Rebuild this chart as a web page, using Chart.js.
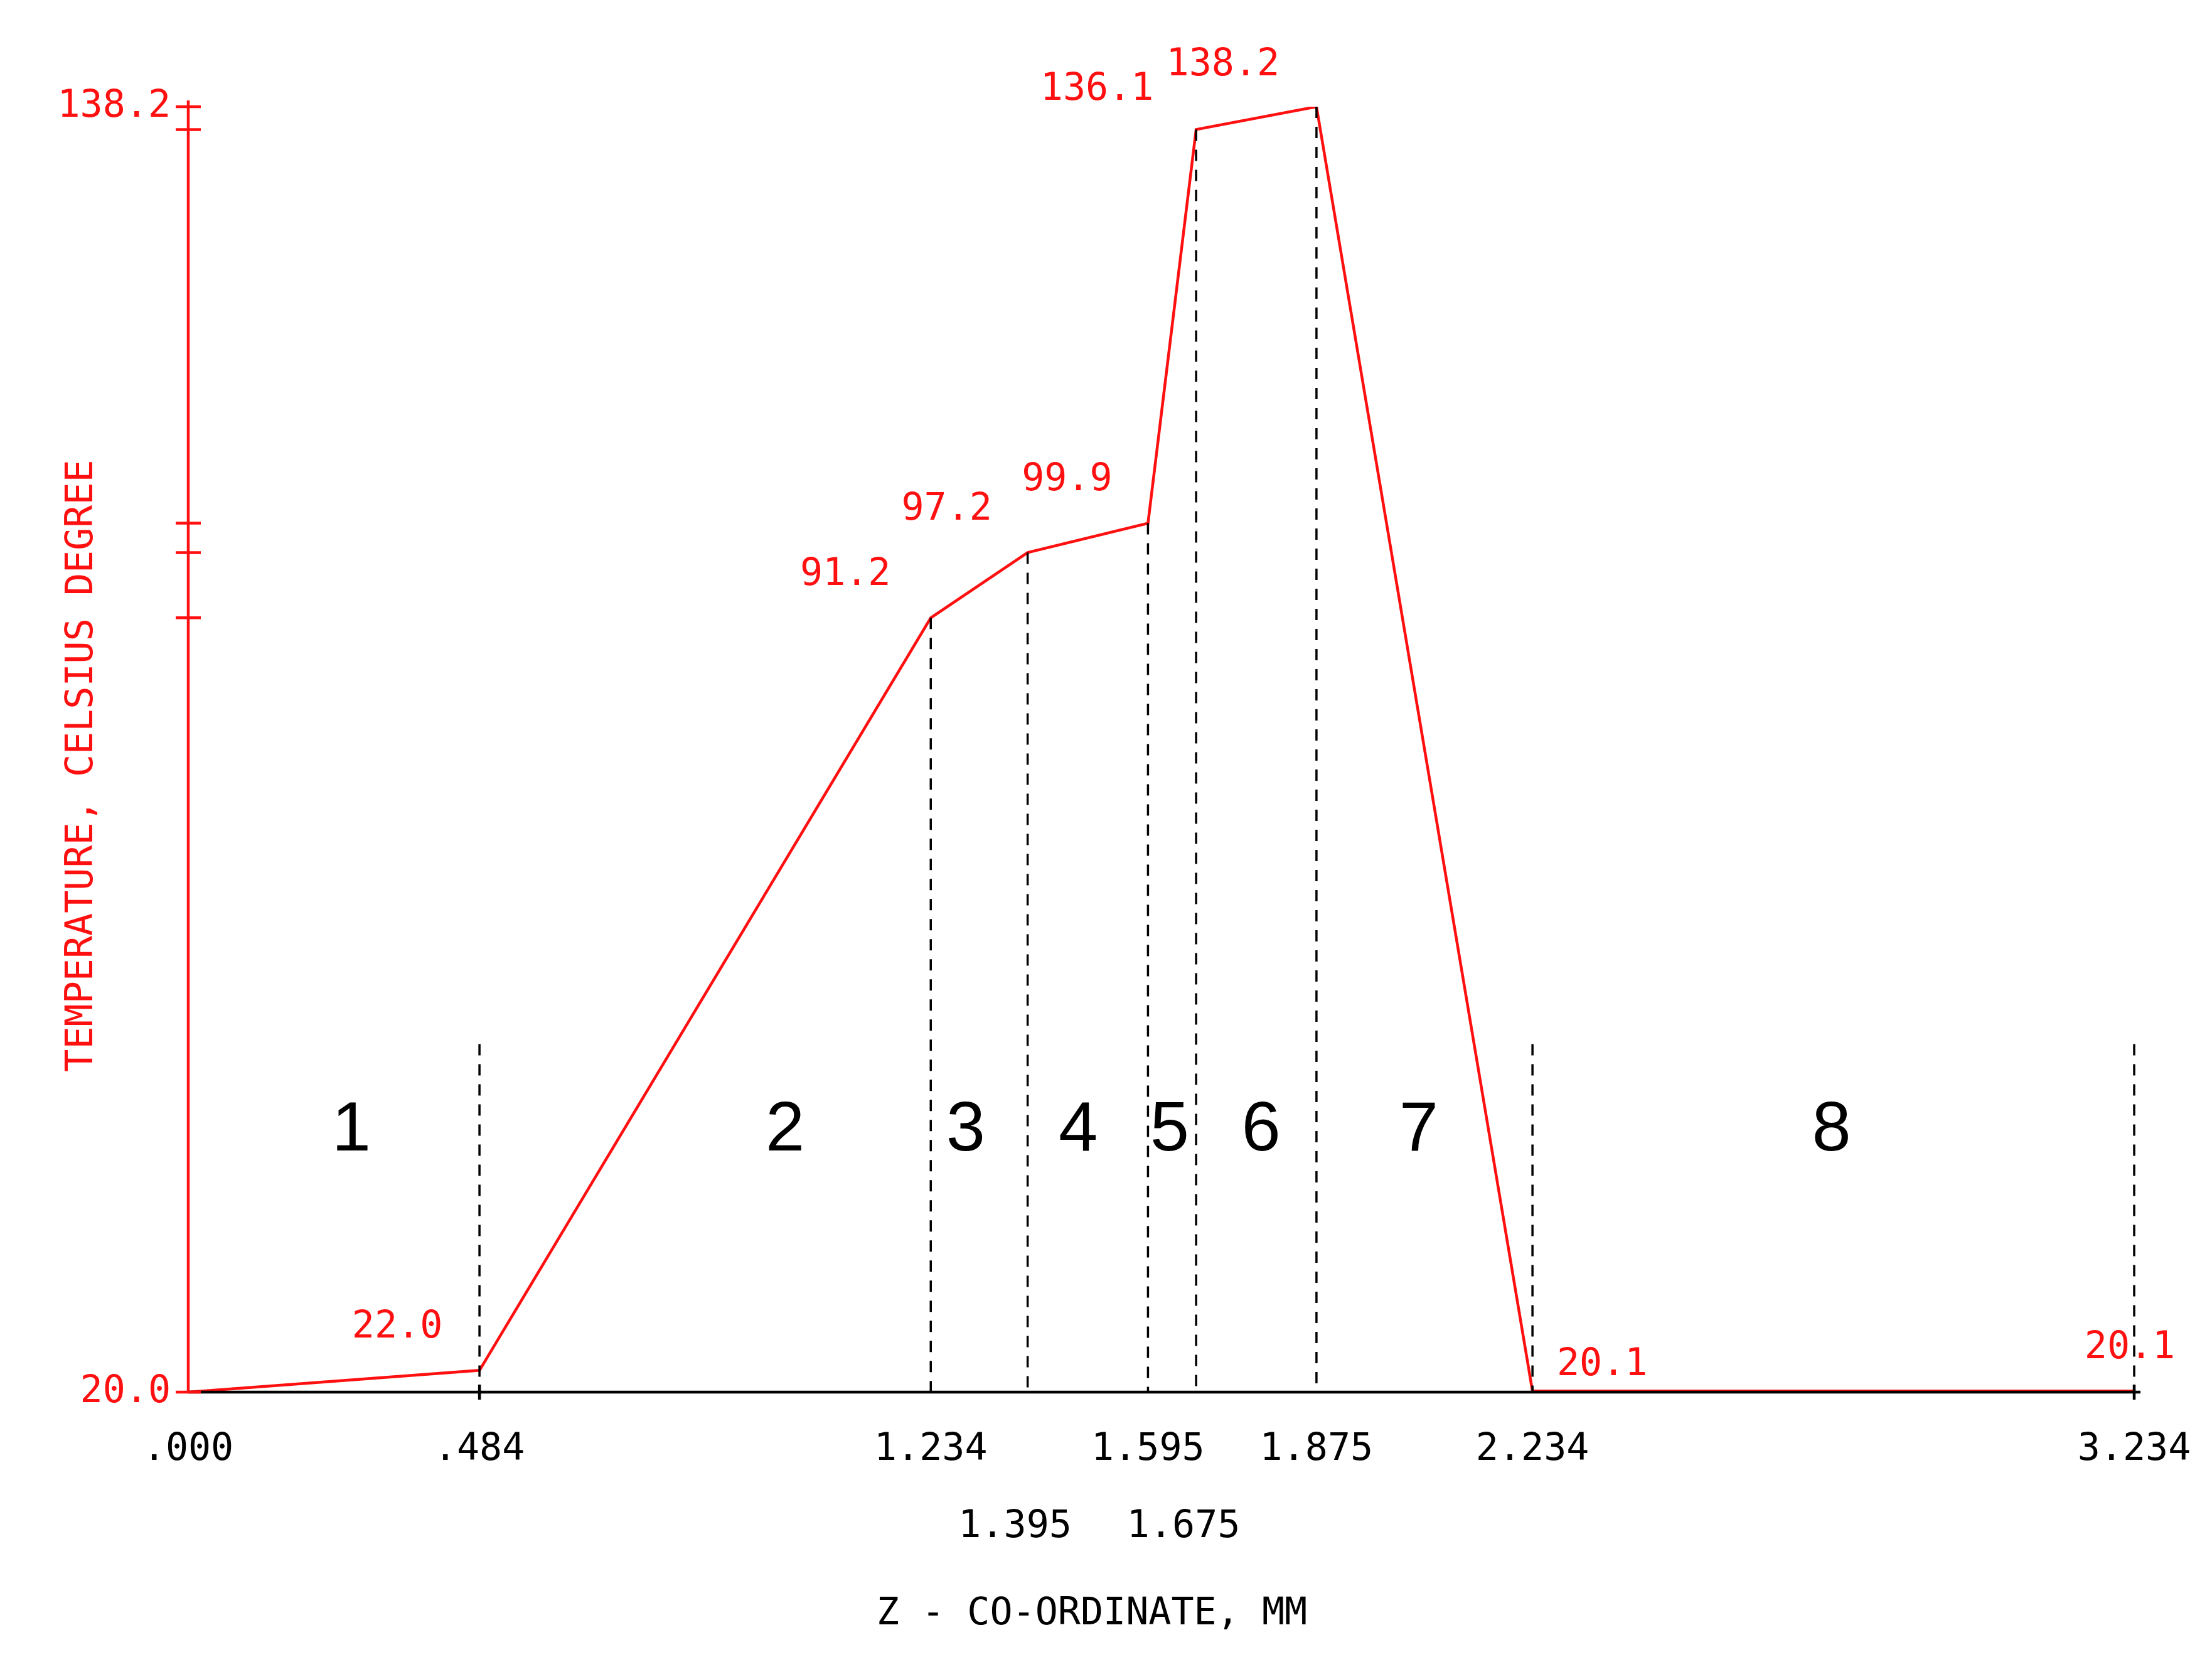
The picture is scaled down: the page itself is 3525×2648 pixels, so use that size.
<!DOCTYPE html>
<html>
<head>
<meta charset="utf-8">
<script src="https://cdn.jsdelivr.net/npm/chart.js@4/dist/chart.umd.min.js"></script>
<style>
  html, body { margin: 0; padding: 0; background: #fff; }
  #wrap { width: 3525px; height: 2648px; }
</style>
</head>
<body>
<div id="wrap"><canvas id="tempChart"></canvas></div>
<script>
// z co-ordinate (mm) and temperature (C)
const zValues = [0, 0.484, 1.234, 1.395, 1.595, 1.675, 1.875, 2.234, 3.234];
const temps = [20.0, 22.0, 91.2, 97.2, 99.9, 136.1, 138.2, 20.1, 20.1];
const pointLabels = ['', '22.0', '91.2', '97.2', '99.9', '136.1', '138.2', '20.1', '20.1'];
const xTicksRow1 = [0, 0.484, 1.234, 1.595, 1.875, 2.234, 3.234];
const xTicksRow2 = [1.395, 1.675];
const xTickText = { 0: '.000', 0.484: '.484', 1.234: '1.234', 1.395: '1.395', 1.595: '1.595', 1.675: '1.675', 1.875: '1.875', 2.234: '2.234', 3.234: '3.234' };
const yTicks = [20.0, 91.2, 97.2, 99.9, 136.1, 138.2];
const yLabelTicks = [20.0, 138.2];
const regionNames = ['1', '2', '3', '4', '5', '6', '7', '8'];
const regionCentres = [0.271, 0.992, 1.292, 1.479, 1.631, 1.783, 2.045, 2.731];
const shortDashZ = [0.484, 2.234, 3.234]; // dashed lines that stop at ~52 C
const shortDashTop = 52;
const regionLabelTemp = 44;

// label offsets (px) from each point
const labelOffsets = [[0, 0], [-131, -68], [-136, -68], [-129, -68], [-129, -68], [-158, -63], [-149, -66], [111, -41], [-7, -68]];

const mono = '"DejaVu Sans Mono", monospace';
const red = '#ff1010';

const drawPlugin = {
  id: 'drawPlugin',
  afterDatasetsDraw(chart) {
    const ctx = chart.ctx;
    const x = chart.scales.x, y = chart.scales.y;
    const area = chart.chartArea;
    const y0 = y.getPixelForValue(20);
    ctx.save();

    // dashed verticals
    ctx.strokeStyle = '#000';
    ctx.lineWidth = 3.5;
    ctx.setLineDash([18, 14]);
    zValues.forEach((z, i) => {
      if (i === 0) return;
      const px = x.getPixelForValue(z);
      const top = shortDashZ.includes(z) ? y.getPixelForValue(shortDashTop) : y.getPixelForValue(temps[i]);
      ctx.beginPath();
      ctx.moveTo(px, top);
      ctx.lineTo(px, y0);
      ctx.stroke();
    });
    ctx.setLineDash([]);

    // x axis line
    ctx.lineWidth = 4.5;
    ctx.beginPath();
    ctx.moveTo(area.left, y0);
    ctx.lineTo(x.getPixelForValue(3.234) + 10, y0);
    ctx.stroke();
    [0.484, 3.234].forEach(z => {
      const px = x.getPixelForValue(z);
      ctx.beginPath(); ctx.moveTo(px, y0 - 12); ctx.lineTo(px, y0 + 12); ctx.stroke();
    });

    // y axis
    const xa = x.getPixelForValue(0);
    ctx.strokeStyle = red;
    ctx.beginPath();
    ctx.moveTo(xa, y.getPixelForValue(138.2) - 10);
    ctx.lineTo(xa, y0);
    ctx.stroke();
    yTicks.forEach(t => {
      const py = y.getPixelForValue(t);
      ctx.beginPath(); ctx.moveTo(xa - 20, py); ctx.lineTo(xa + 20, py); ctx.stroke();
    });

    // y tick labels
    ctx.fillStyle = red;
    ctx.font = '60px ' + mono;
    ctx.textAlign = 'right';
    ctx.textBaseline = 'middle';
    yLabelTicks.forEach(t => ctx.fillText(t.toFixed(1), xa - 28, y.getPixelForValue(t)));

    // point labels
    ctx.textAlign = 'center';
    zValues.forEach((z, i) => {
      if (!pointLabels[i]) return;
      const o = labelOffsets[i];
      ctx.fillText(pointLabels[i], x.getPixelForValue(z) + o[0], y.getPixelForValue(temps[i]) + o[1]);
    });

    // x tick labels
    ctx.fillStyle = '#000';
    xTicksRow1.forEach(z => ctx.fillText(xTickText[z], x.getPixelForValue(z), y0 + 92));
    xTicksRow2.forEach(z => ctx.fillText(xTickText[z], x.getPixelForValue(z) - 20, y0 + 215));

    // axis titles
    ctx.fillText('Z - CO-ORDINATE, MM', 1740, 2572);
    ctx.save();
    ctx.fillStyle = red;
    ctx.translate(131, 1220);
    ctx.rotate(-Math.PI / 2);
    ctx.fillText('TEMPERATURE, CELSIUS DEGREE', 0, 0);
    ctx.restore();

    // region numbers
    ctx.fillStyle = '#000';
    ctx.font = '112px "Liberation Sans", Arial, sans-serif';
    regionNames.forEach((n, i) => {
      ctx.fillText(n, x.getPixelForValue(regionCentres[i]), y.getPixelForValue(regionLabelTemp));
    });
    ctx.restore();
  }
};

new Chart(document.getElementById('tempChart'), {
  type: 'line',
  data: {
    datasets: [{
      data: zValues.map((z, i) => ({ x: z, y: temps[i] })),
      borderColor: red,
      borderWidth: 4.5,
      pointRadius: 0,
      tension: 0,
      fill: false
    }]
  },
  options: {
    responsive: true,
    maintainAspectRatio: false,
    animation: false,
    layout: { padding: { left: 300, right: 124, top: 170, bottom: 430 } },
    plugins: { legend: { display: false }, tooltip: { enabled: false } },
    scales: {
      x: { type: 'linear', min: 0, max: 3.234, display: false },
      y: { type: 'linear', min: 20, max: 138.2, display: false }
    }
  },
  plugins: [drawPlugin]
});
</script>
</body>
</html>
